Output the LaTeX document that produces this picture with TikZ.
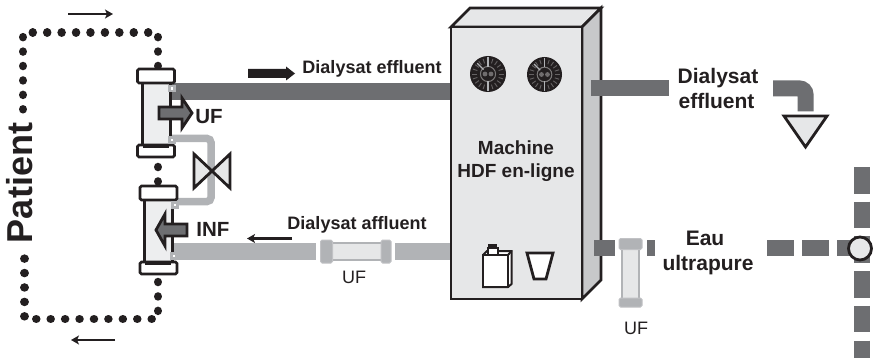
\documentclass[tikz,border=0pt]{standalone}
\usepackage{fontspec}
\setmainfont{Liberation Sans}
\usetikzlibrary{arrows.meta,calc,shapes.arrows}
\definecolor{pipedark}{HTML}{6D6E71}
\definecolor{pipelight}{HTML}{B1B3B6}
\definecolor{panel}{HTML}{E6E7E8}
\definecolor{panelside}{HTML}{C7C8CA}
\definecolor{ink}{HTML}{231F20}
\newcommand{\fs}[1]{\fontsize{#1}{#1}\selectfont}
\tikzset{
  x=1pt,y=-1pt,
  dots/.style={draw=ink,line width=8.5pt,line cap=round,dash pattern=on 0.01pt off 14.42pt},
  darkpipe/.style={draw=pipedark,line width=17pt},
  lightpipe/.style={draw=pipelight,line width=17pt},
  thinpipe/.style={draw=pipelight,line width=7.5pt,rounded corners=4pt},
  dashpipe/.style={draw=pipedark,line width=15.5pt,dash pattern=on 27pt off 8pt},
  flow/.style={draw=ink,line width=2.4pt,-{Stealth[length=8pt,width=9pt,inset=2pt]}},
  capbox/.style={draw=ink,line width=2.6pt,fill=white,rounded corners=1.5pt,minimum width=37pt,inner sep=0pt},
  bodybox/.style={draw=ink,line width=3pt,fill=panel!70!white,minimum width=28pt,inner sep=0pt},
  port/.style={draw=pipelight,fill=white,line width=2.6pt,minimum size=5pt,inner sep=0pt},
  filtercap/.style={fill=pipelight,draw=pipelight!80!white,line width=1pt,rounded corners=1.5pt,inner sep=0pt},
  filterbody/.style={fill=panel,draw=pipelight,line width=1.2pt,inner sep=0pt},
  face/.style={draw=ink,line width=2.8pt,line join=miter},
  bigarrow/.style={draw=ink,fill=pipedark,line width=2.8pt,line join=miter},
  lab/.style={font=\bfseries,text=ink,inner sep=0pt,anchor=base},
  thinlab/.style={font=\fs{18},text=ink,inner sep=0pt,anchor=base},
}
\newcommand{\gauge}[4]{% name, x, y, r
  \node[circle,fill=ink,minimum size=#4*2pt,inner sep=0pt] (#1) at (#2,#3) {};
  \foreach \a in {0,18,...,342} \draw[ink!70!white,line width=0.9pt] ($(#1)+(\a:#4*0.62)$) -- ($(#1)+(\a:#4*0.88)$);
  \draw[ink!60!white,line width=1pt] (#1) circle (#4*0.42);
  \fill[ink!65!white] ($(#1)+(-3,0)$) circle (2.4pt) ($(#1)+(3,0)$) circle (2.4pt);
  \draw[pipelight,line width=1.2pt] ($(#1)+(0,-#4*0.95)$) -- ($(#1)+(0,-#4*0.4)$) ($(#1)+(0,#4*0.4)$) -- ($(#1)+(0,#4*0.95)$);
  \draw[pipelight,line width=1.2pt] ($(#1)+(-#4*0.6,-#4*0.6)$) -- ($(#1)+(-#4*0.25,-#4*0.25)$);
}
\begin{document}
\begin{tikzpicture}
\useasboundingbox (0,0) rectangle (874,358);
\fill[white] (0,0) rectangle (874,358);

% dotted blood circuit
\coordinate (bloodA) at (158,66);
\coordinate (bloodB) at (158,32.5);
\coordinate (bloodC) at (23,32.5);
\coordinate (bloodD) at (23,110);
\coordinate (bloodE) at (158,282);
\coordinate (bloodF) at (158,319);
\coordinate (bloodG) at (24.5,319);
\coordinate (bloodH) at (24.5,257);
\coordinate (bloodI) at (158,167);
\coordinate (bloodJ) at (158,182);
\draw[dots] (bloodA) -- (bloodB) -- (bloodC) -- (bloodD);
\draw[dots] (bloodE) -- (bloodF) -- (bloodG) -- (bloodH);
\draw[dots] (bloodI) -- (bloodJ);

% direction arrows
\coordinate (topA) at (68,14); \coordinate (topB) at (113,14);
\coordinate (botA) at (115,340); \coordinate (botB) at (71,340);
\coordinate (dfA) at (292,238.5); \coordinate (dfB) at (247,238.5);
\draw[flow] (topA) -- (topB);
\draw[flow] (botA) -- (botB);
\draw[flow] (dfA) -- (dfB);

% machine
\coordinate (mTL) at (451,27); \coordinate (mTR) at (582,27);
\coordinate (mBL) at (451,299); \coordinate (mBR) at (582,299);
\coordinate (mbTL) at (470,8); \coordinate (mbTR) at (601,8); \coordinate (mbBR) at (601,280);

% pipes
\coordinate (effA) at (172,91.5); \coordinate (effB) at (452,91.5);
\coordinate (affA) at (172,251.5); \coordinate (affB) at (316,251.5);
\coordinate (affC) at (395,251.5); \coordinate (affD) at (452,251.5);
\draw[darkpipe] (effA) -- (effB);
\draw[lightpipe] (affA) -- (affB);
\draw[lightpipe] (affC) -- (affD);
\coordinate (sideA) at (172,138.5); \coordinate (sideB) at (211,138.5);
\coordinate (sideC) at (211,201.5); \coordinate (sideD) at (175,201.5);
\draw[thinpipe] (sideA) -- (sideB) -- (sideC) -- (sideD);

% upper dialyser
\node[bodybox,minimum height=64pt] (dialU) at (156,114) {};
\node[capbox,minimum height=14pt] (capUa) at (156,76) {};
\node[capbox,minimum height=12pt] (capUb) at (156,151) {};
\draw[ink,line width=3pt] (143,146.5) -- (169,146.5);
\draw[ink,line width=3pt] (170,91) -- (170,137);
\node[port] (portUa) at (172,88.5) {};
\node[port] (portUb) at (172,140) {};

% lower dialyser
\node[bodybox,minimum height=64pt] (dialL) at (158,231) {};
\node[capbox,minimum height=14pt] (capLa) at (158.5,193) {};
\node[capbox,minimum height=12pt] (capLb) at (158.5,268) {};
\draw[ink,line width=3pt] (145,263.5) -- (171,263.5);
\draw[ink,line width=3pt] (172,208) -- (172,253);
\node[port] (portLa) at (175,205) {};
\node[port] (portLb) at (174,256) {};

% UF / INF block arrows
\draw[bigarrow] (159,107) -- (182,107) -- (182,98) -- (192,113) -- (182,128) -- (182,119) -- (159,119) -- cycle;
\draw[bigarrow] (187,224) -- (165,224) -- (165,214) -- (156,230) -- (165,246) -- (165,236) -- (187,236) -- cycle;
\node[lab,font=\bfseries\fs{20.5}] (ufB) at (209,124) {UF};
\node[lab,font=\bfseries\fs{20.5}] (inf) at (213,236) {INF};

% valve
\draw[face,fill=panel] (194,154) -- (230,188) -- (230,154) -- (194,188) -- cycle;

% patient
\node[lab,font=\bfseries\fs{36},rotate=90] (patient) at (32.5,183) {Patient};

% effluent labels
\fill[ink] (248,69) -- (286,69) -- (286,66.5) -- (295,73.5) -- (286,80.5) -- (286,78) -- (248,78) -- cycle;
\node[lab,font=\bfseries\fs{18}] (effLab) at (372,74) {Dialysat effluent};
\node[lab,font=\bfseries\fs{18}] (affLab) at (357,229) {Dialysat affluent};

% inline filter
\node[filterbody,minimum width=60pt,minimum height=17pt] (filtH) at (355.5,251.5) {};
\node[filtercap,minimum width=12pt,minimum height=23pt] (filtHa) at (326.5,251.5) {};
\node[filtercap,minimum width=10pt,minimum height=23pt] (filtHb) at (386,251.5) {};
\node[thinlab] (ufH) at (354,283) {UF};

% machine body
\draw[face,fill=panel] (mTL) -- (mbTL) -- (mbTR) -- (mTR) -- cycle;
\draw[face,fill=panelside] (mTR) -- (mbTR) -- (mbBR) -- (mBR) -- cycle;
\draw[face,fill=panel] (mTL) rectangle (mBR);
\gauge{gaugeA}{488}{74}{18}
\gauge{gaugeB}{544.5}{74.5}{17.5}
\node[lab,font=\bfseries\fs{19}] (mach1) at (516,155) {Machine};
\node[lab,font=\bfseries\fs{19}] (mach2) at (516,178) {HDF en-ligne};

% bottle and cup
\draw[ink,line width=2pt,fill=white] (483,255) -- (487,251) -- (511.5,251) -- (511.5,284) -- (508,287) -- (483,287) -- cycle;
\draw[ink,line width=2pt] (508,255) -- (511.5,251);
\fill[ink] (488,244) rectangle (497,249);
\draw[ink,line width=2pt,fill=white] (487.5,248) rectangle (497.5,255);
\draw[ink,line width=2.6pt,fill=white] (483,255) rectangle (508,287);
\draw[face,fill=white] (527,253) -- (553,253) -- (546,279) -- (534,279) -- cycle;

% right side: drain
\coordinate (drA) at (591,88.5); \coordinate (drB) at (669,88.5);
\coordinate (drC) at (773,88.5); \coordinate (drD) at (805.5,88.5); \coordinate (drE) at (805.5,111.5);
\draw[darkpipe,line width=16pt] (drA) -- (drB);
\draw[darkpipe,rounded corners=6pt,line width=16pt] (drC) -- (drD) -- (drE);
\node[lab,font=\bfseries\fs{21}] (dr1) at (718,84) {Dialysat};
\node[lab,font=\bfseries\fs{21}] (dr2) at (716.5,109) {effluent};
\draw[face,fill=panel] (784,116) -- (827,116) -- (805.5,147) -- cycle;

% ultrapure water
\coordinate (wA) at (594,248); \coordinate (wB) at (615,248);
\coordinate (wC) at (647,248); \coordinate (wD) at (655,248);
\draw[darkpipe,line width=16pt] (wA) -- (wB);
\draw[darkpipe,line width=16pt] (wC) -- (wD);
\node[filterbody,minimum width=17pt,minimum height=50pt] (filtV) at (630.5,274) {};
\node[filtercap,minimum width=23pt,minimum height=11pt] (filtVa) at (630.5,244) {};
\node[filtercap,minimum width=23pt,minimum height=9pt] (filtVb) at (630.5,302.5) {};
\node[thinlab] (ufV) at (636,334) {UF};
\node[lab,font=\bfseries\fs{21}] (eau) at (705,245) {Eau};
\node[lab,font=\bfseries\fs{21}] (ultra) at (708,270) {ultrapure};

% supply loop
\coordinate (sA) at (767,248); \coordinate (sB) at (860,248);
\coordinate (sC) at (862,167); \coordinate (sD) at (862,358);
\draw[dashpipe] (sA) -- (sB);
\draw[dashpipe,dash pattern=on 26.5pt off 8.2pt] (sC) -- (sD);
\node[circle,draw=ink,line width=2.8pt,fill=panel,minimum size=23pt,inner sep=0pt] (junction) at (860,248.5) {};
\end{tikzpicture}
\end{document}
